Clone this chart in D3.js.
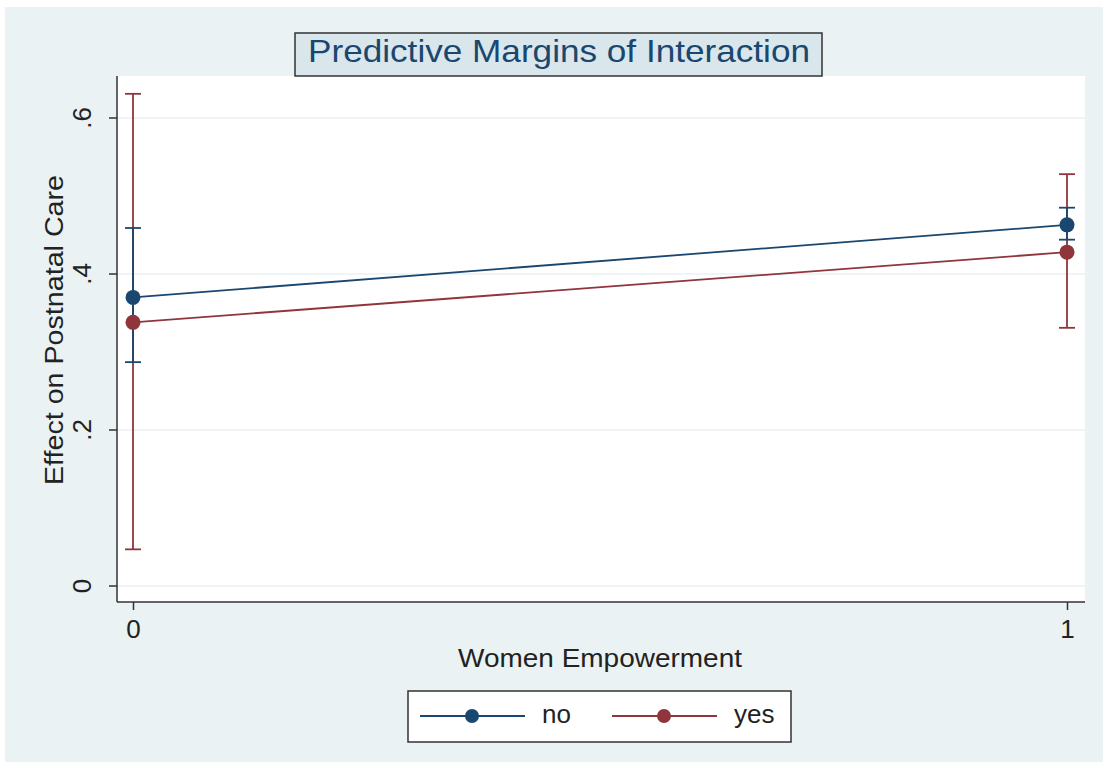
<!DOCTYPE html>
<html lang="en">
<head>
<meta charset="UTF-8">
<title>Predictive Margins of Interaction</title>
<script src="https://d3js.org/d3.v7.min.js"></script>
<style>
    body { margin: 0; background: #ffffff; font-family: "Liberation Sans", Arial, sans-serif; }
    svg { display: block; }
</style>
</head>
<body>
<div id="chart"></div>
<script>
    // data
    const groups = ["no", "yes"];
    const xValues = [0, 1];
    const noMargin = [0.370, 0.463];
    const noLower = [0.287, 0.444];
    const noUpper = [0.459, 0.485];
    const yesMargin = [0.338, 0.428];
    const yesLower = [0.047, 0.331];
    const yesUpper = [0.631, 0.528];
    const yTicks = [0, 0.2, 0.4, 0.6];
    const yTickLabels = ["0", ".2", ".4", ".6"];
    const xTickLabels = ["0", "1"];

    const colors = { no: "#1a476f", yes: "#90353b" };
    const textColor = '#222';

    const width = 1108, height = 770;
    const svg = d3.select('#chart').append('svg')
        .attr('width', width)
        .attr('height', height);

    // outer graph region
    svg.append('rect')
        .attr('x', 5).attr('y', 7)
        .attr('width', 1098).attr('height', 755)
        .attr('fill', '#eaf2f3');

    // plot region
    const plot = { left: 117, right: 1085, top: 76, bottom: 602 };

    const x = d3.scaleLinear().domain([0, 1]).range([133, 1067]);
    const y = d3.scaleLinear().domain([0, 0.6]).range([586, 118]);

    svg.append('rect')
        .attr('x', plot.left).attr('y', plot.top)
        .attr('width', plot.right - plot.left)
        .attr('height', plot.bottom - plot.top)
        .attr('fill', '#ffffff');

    // gridlines
    svg.append('g').selectAll('line')
        .data(yTicks)
        .join('line')
        .attr('x1', plot.left).attr('x2', plot.right)
        .attr('y1', d => y(d)).attr('y2', d => y(d))
        .attr('stroke', '#eaf2f3')
        .attr('stroke-width', 1.5);

    // y axis
    const yAxis = d3.axisLeft(y)
        .tickValues(yTicks)
        .tickFormat((d, i) => yTickLabels[i])
        .tickSize(8);
    const gy = svg.append('g')
        .attr('transform', `translate(${plot.left},0)`)
        .call(yAxis);
    gy.select('.domain').attr('d', `M0,${plot.top}V${plot.bottom}`);
    gy.selectAll('line, .domain').attr('stroke', '#333').attr('stroke-width', 1.5);
    gy.selectAll('.tick').attr('transform', null);
    gy.selectAll('.tick line')
        .attr('y1', d => y(d)).attr('y2', d => y(d));
    gy.selectAll('text')
        .attr('font-size', 26)
        .attr('font-family', '"Liberation Sans", Arial, sans-serif')
        .attr('fill', textColor)
        .attr('text-anchor', 'middle')
        .attr('dy', null)
        .attr('x', 0).attr('y', 0)
        .attr('transform', d => `translate(-26,${y(d)}) rotate(-90)`);

    // x axis
    const xAxis = d3.axisBottom(x)
        .tickValues(xValues)
        .tickFormat((d, i) => xTickLabels[i])
        .tickSize(8)
        .tickPadding(6);
    const gx = svg.append('g')
        .attr('transform', `translate(0,${plot.bottom})`)
        .call(xAxis);
    gx.select('.domain').attr('d', `M${plot.left},0H${plot.right}`);
    gx.selectAll('line, .domain').attr('stroke', '#333').attr('stroke-width', 1.5);
    gx.selectAll('text')
        .attr('font-size', 26)
        .attr('font-family', '"Liberation Sans", Arial, sans-serif')
        .attr('fill', textColor)
        .attr('dy', null)
        .attr('y', 36);

    // axis titles
    svg.append('text')
        .attr('x', 600).attr('y', 667)
        .attr('text-anchor', 'middle')
        .attr('font-size', 26)
        .attr('textLength', 284)
        .attr('lengthAdjust', 'spacingAndGlyphs')
        .attr('fill', textColor)
        .text('Women Empowerment');

    svg.append('text')
        .attr('transform', `translate(63,330) rotate(-90)`)
        .attr('text-anchor', 'middle')
        .attr('font-size', 26)
        .attr('textLength', 310)
        .attr('lengthAdjust', 'spacingAndGlyphs')
        .attr('fill', textColor)
        .text('Effect on Postnatal Care');

    // series
    const series = [
        { key: 'no', margin: noMargin, lower: noLower, upper: noUpper },
        { key: 'yes', margin: yesMargin, lower: yesLower, upper: yesUpper }
    ];

    const line = d3.line()
        .x((d, i) => x(xValues[i]))
        .y(d => y(d));

    const cap = 8;
    // confidence intervals under the lines
    series.slice().reverse().forEach(s => {
        const g = svg.append('g');
        xValues.forEach((xv, i) => {
            const cx = x(xv);
            g.append('line')
                .attr('x1', cx).attr('x2', cx)
                .attr('y1', y(s.lower[i])).attr('y2', y(s.upper[i]))
                .attr('stroke', colors[s.key]).attr('stroke-width', 1.8);
            [s.lower[i], s.upper[i]].forEach(v => {
                g.append('line')
                    .attr('x1', cx - cap).attr('x2', cx + cap)
                    .attr('y1', y(v)).attr('y2', y(v))
                    .attr('stroke', colors[s.key]).attr('stroke-width', 1.8);
            });
        });
    });

    series.forEach(s => {
        svg.append('path')
            .datum(s.margin)
            .attr('d', line)
            .attr('fill', 'none')
            .attr('stroke', colors[s.key])
            .attr('stroke-width', 1.8);
        svg.append('g').selectAll('circle')
            .data(s.margin)
            .join('circle')
            .attr('cx', (d, i) => x(xValues[i]))
            .attr('cy', d => y(d))
            .attr('r', 7.5)
            .attr('fill', colors[s.key]);
    });

    // title box
    svg.append('rect')
        .attr('x', 295).attr('y', 33)
        .attr('width', 527).attr('height', 43)
        .attr('fill', '#d9e6eb')
        .attr('stroke', '#333')
        .attr('stroke-width', 1.5);
    svg.append('text')
        .attr('x', 559).attr('y', 62)
        .attr('text-anchor', 'middle')
        .attr('font-size', 32)
        .attr('textLength', 502)
        .attr('lengthAdjust', 'spacingAndGlyphs')
        .attr('fill', '#1a476f')
        .text('Predictive Margins of Interaction');

    // legend
    const legend = svg.append('g');
    legend.append('rect')
        .attr('x', 408).attr('y', 691)
        .attr('width', 383).attr('height', 51)
        .attr('fill', '#ffffff')
        .attr('stroke', '#333')
        .attr('stroke-width', 1.5);
    const legendX = [420, 612];
    groups.forEach((gname, i) => {
        const lx = legendX[i];
        legend.append('line')
            .attr('x1', lx).attr('x2', lx + 105)
            .attr('y1', 716).attr('y2', 716)
            .attr('stroke', colors[gname]).attr('stroke-width', 1.8);
        legend.append('circle')
            .attr('cx', lx + 52).attr('cy', 716).attr('r', 7)
            .attr('fill', colors[gname]);
        legend.append('text')
            .attr('x', lx + 122).attr('y', 723)
            .attr('font-size', 26)
            .attr('fill', textColor)
            .text(gname);
    });
</script>
</body>
</html>
